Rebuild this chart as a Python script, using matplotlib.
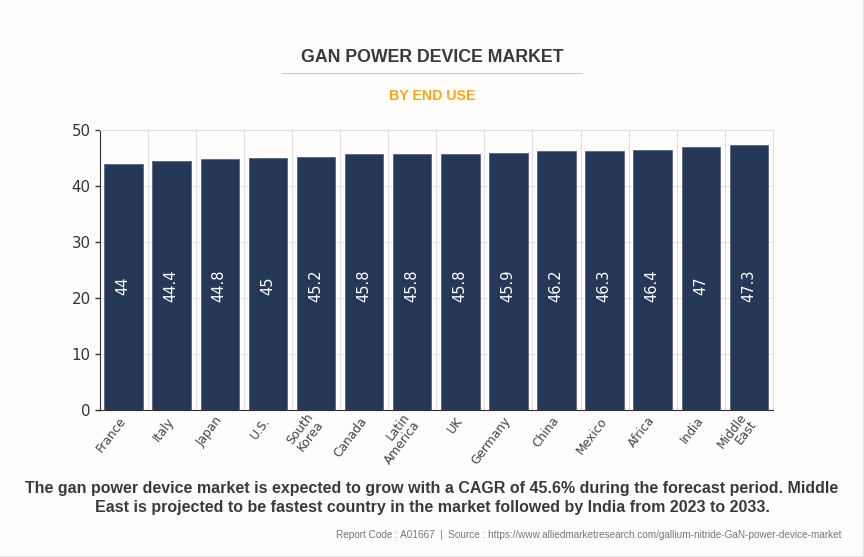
import matplotlib
matplotlib.use('Agg')
import matplotlib.pyplot as plt
import numpy as np

W, H = 864, 557

categories = ['France', 'Italy', 'Japan', 'U.S.', 'South\nKorea', 'Canada', 'Latin\nAmerica',
              'UK', 'Germany', 'China', 'Mexico', 'Africa', 'India', 'Middle\nEast']
values = [44, 44.4, 44.8, 45, 45.2, 45.8, 45.8, 45.8, 45.9, 46.2, 46.3, 46.4, 47, 47.3]
value_labels = ['44', '44.4', '44.8', '45', '45.2', '45.8', '45.8', '45.8', '45.9', '46.2', '46.3', '46.4', '47', '47.3']
yticks = [0, 10, 20, 30, 40, 50]

title = 'GAN POWER DEVICE MARKET'
subtitle = 'BY END USE'
note = ('The gan power device market is expected to grow with a CAGR of 45.6% during the forecast period. Middle\n'
        'East is projected to be fastest country in the market followed by India from 2023 to 2033.')
source = 'Report Code : A01667  |  Source : https://www.alliedmarketresearch.com/gallium-nitride-GaN-power-device-market'

bg = '#fefdfc'
fig = plt.figure(figsize=(W / 100, H / 100), dpi=100, facecolor=bg)
ax = fig.add_axes([99.5 / W, 1 - 410 / H, (773 - 99.5) / W, 280 / H], facecolor=bg)

x = np.arange(len(categories))
ax.bar(x, values, width=0.8, color='#253858', edgecolor='#59667f', linewidth=0.6, zorder=3)

for i, v in enumerate(value_labels):
    ax.text(i - 0.01, 22.2, v, rotation=90, ha='center', va='center', color='white',
            fontsize=10.5, zorder=4)

ax.set_xlim(-0.5, len(categories) - 0.5)
ax.set_ylim(0, 50)
ax.set_yticks(yticks)
ax.set_xticks(x)
ax.set_xticklabels(categories, rotation=53, rotation_mode='anchor', ha='right', va='center',
                   fontsize=8.8, color='#444444', linespacing=0.95)
ax.tick_params(axis='x', length=0, pad=6)
ax.tick_params(axis='y', length=3.3, width=1, color='#333333', labelsize=10.8, labelcolor='#333333', pad=3)

ax.set_xticks(np.arange(len(categories) + 1) - 0.5, minor=True)
ax.tick_params(axis='x', which='minor', length=0)
ax.grid(True, which='minor', axis='x', color='#e0e0e0', linewidth=0.8, zorder=0)
ax.grid(True, which='major', axis='y', color='#e0e0e0', linewidth=0.8, zorder=0)

for s in ['top', 'right']:
    ax.spines[s].set_color('#e0e0e0')
    ax.spines[s].set_linewidth(0.8)
ax.spines['left'].set_color('#333333')
ax.spines['bottom'].set_color('#333333')

fig.text(432 / W, 1 - 58 / H, title, ha='center', va='center', fontsize=12.8, fontweight='bold',
         family='Liberation Sans', color='#3a3a3a')
fig.add_artist(plt.Line2D([282 / W, 582 / W], [1 - 72.5 / H] * 2, color='#cccccc', linewidth=0.8))
fig.text(432 / W, 1 - 95.5 / H, subtitle, ha='center', va='center', fontsize=10.2, fontweight='bold',
         family='Liberation Sans', color='#faa61a')
fig.text(432 / W, 1 - 498 / H, note, ha='center', va='center', fontsize=11.5, fontweight='bold',
         family='Liberation Sans', color='#3a3a3a', linespacing=1.3)
fig.text(842 / W, 1 - 535 / H, source, ha='right', va='center', fontsize=7.2,
         family='Liberation Sans', color='#777777')

fig.add_artist(plt.Line2D([0, 1], [0.5 / H] * 2, color='#e4e4e4', linewidth=1.5))
fig.add_artist(plt.Line2D([1 - 0.5 / W] * 2, [0, 1], color='#e4e4e4', linewidth=1.5))

fig.savefig('out.png', dpi=100, facecolor=bg)
